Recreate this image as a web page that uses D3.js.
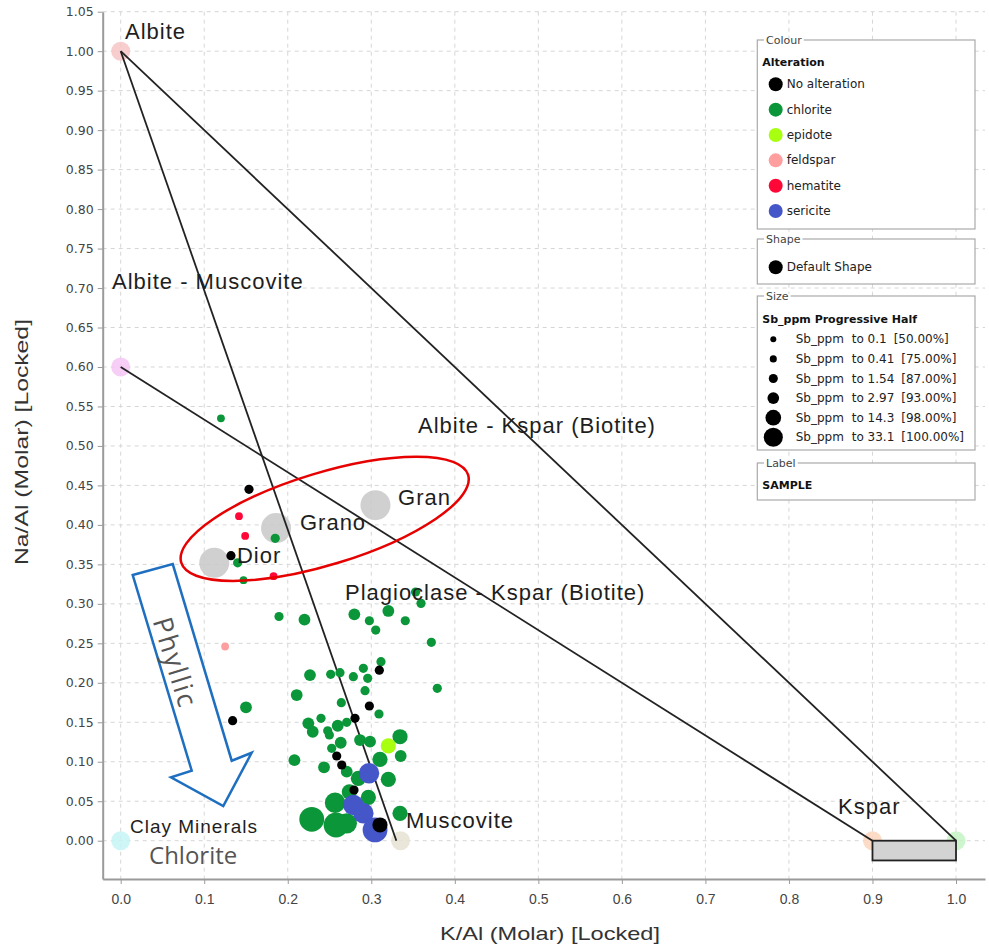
<!DOCTYPE html>
<html><head><meta charset="utf-8">
<script src="https://cdn.jsdelivr.net/npm/d3@7"></script>
<style>body{margin:0;background:#fff}svg{display:block}</style>
</head><body><svg id="c" width="989" height="947"></svg>
<script>
// ---------------- DATA ----------------
const xTicks = [0.0,0.1,0.2,0.3,0.4,0.5,0.6,0.7,0.8,0.9,1.0];
const yTicks = [0.00,0.05,0.10,0.15,0.20,0.25,0.30,0.35,0.40,0.45,0.50,0.55,0.60,0.65,0.70,0.75,0.80,0.85,0.90,0.95,1.00,1.05];

const alterations = ["No alteration","chlorite","epidote","feldspar","hematite","sericite"];
const alterationColors = ["#000000","#0a9639","#a8ff10","#ff9e9e","#ff0838","#4456c8"];

const sizeUpper = ["0.1","0.41","1.54","2.97","14.3","33.1"];
const sizePct = ["[50.00%]","[75.00%]","[87.00%]","[93.00%]","[98.00%]","[100.00%]"];

// [K/Al, Na/Al, alteration index, size class]
const chloriteSamples = [
 [0.120,0.535,1,0],[0.185,0.383,1,1],[0.140,0.352,1,1],[0.147,0.330,1,0],
 [0.353,0.315,1,1],[0.3595,0.3006,1,1],[0.1895,0.284,1,1],[0.220,0.280,1,2],
 [0.2797,0.2867,1,2],[0.3204,0.291,1,2],[0.2977,0.2786,1,1],[0.3053,0.2668,1,1],
 [0.3407,0.2786,1,1],[0.3719,0.2513,1,1],[0.379,0.193,1,1],[0.3116,0.2267,1,1],
 [0.2266,0.2098,1,2],[0.2514,0.2107,1,1],[0.2625,0.2128,1,1],[0.2785,0.2077,1,1],
 [0.2905,0.2183,1,1],[0.2957,0.2057,1,1],[0.2925,0.190,1,1],[0.2107,0.1845,1,2],
 [0.150,0.169,1,2],[0.2641,0.1748,1,1],[0.3092,0.1605,1,1],[0.2398,0.155,1,1],
 [0.2246,0.1487,1,2],[0.2299,0.138,1,2],[0.2478,0.1393,1,1],[0.2598,0.1456,1,2],
 [0.2706,0.150,1,1],[0.2498,0.134,1,1],[0.2634,0.1241,1,2],[0.2865,0.1275,1,2],
 [0.2985,0.1254,1,2],[0.3344,0.1317,1,3],[0.3352,0.1073,1,2],[0.3104,0.1031,1,3],
 [0.2526,0.117,1,1],[0.208,0.102,1,2],[0.2434,0.093,1,2],[0.2706,0.0874,1,2],
 [0.2845,0.079,1,3],[0.3204,0.0778,1,3],[0.2737,0.062,1,3],[0.2965,0.055,1,3],
 [0.2566,0.0481,1,4],[0.3344,0.0347,1,3],[0.2287,0.0271,1,5],[0.2706,0.022,1,4],
 [0.2578,0.0199,1,5]
];
const sericiteSamples = [
 [0.2973,0.0854,5,4],[0.2785,0.0452,5,4],[0.2905,0.0347,5,4],[0.3045,0.0136,5,5]
];
const otherSamples = [
 [0.3204,0.120,2,3],
 [0.1416,0.411,4,0],[0.149,0.386,4,0],[0.183,0.335,4,0],
 [0.125,0.246,3,0]
];
const unalteredSamples = [
 [0.1536,0.445,0,1],[0.132,0.361,0,1],[0.134,0.152,0,1],[0.3096,0.216,0,1],
 [0.2977,0.1706,0,1],[0.2805,0.155,0,1],[0.2586,0.1073,0,1],[0.2646,0.0959,0,1],
 [0.2793,0.0642,0,1],[0.3104,0.0199,0,3]
];

// End-member points
const endMembers = [
 {name:"Albite", k:0, na:1.0, color:"#f7c4c4"},
 {name:"Albite-Muscovite", k:0, na:0.6, color:"#f6c6f4"},
 {name:"Clay", k:0, na:0.0, color:"#c6f4f6"},
 {name:"Muscovite", k:0.335, na:0.0, color:"#e6e2d4"},
 {name:"Kspar", k:0.9, na:0.0, color:"#fbd6bc"},
 {name:"Kspar2", k:1.0, na:0.0, color:"#c6f4c6"}
];
// Tie lines [k1,na1,k2,na2]
const tieLines = [[0,1.0,0.33,0.0],[0,1.0,1.0,0.0],[0,0.6,0.9,0.0]];
// Reference rocks
const rockNames = ["Dior","Grano","Gran"];
const rockK = [0.112,0.186,0.305];
const rockNa = [0.352,0.396,0.425];

// ---------------- CHART ----------------
const svg = d3.select("#c");
const x = d3.scaleLinear().domain([-0.02155,1.0347]).range([102.7,985]);
const y = d3.scaleLinear().domain([-0.0485,1.05]).range([879,11.7]);
const [yb, yt] = y.range();
const [xl, xr] = x.range();

// grid
const grid = svg.append("g");
grid.selectAll("line.gx").data(xTicks).join("line").attr("class","gx")
  .attr("x1",d=>x(d)).attr("x2",d=>x(d)).attr("y1",yt).attr("y2",yb)
  .attr("stroke","#d6d6d6").attr("stroke-dasharray","4,4");
grid.selectAll("line.gy").data(yTicks).join("line").attr("class","gy")
  .attr("x1",xl).attr("x2",xr).attr("y1",d=>y(d)).attr("y2",d=>y(d))
  .attr("stroke","#d6d6d6").attr("stroke-dasharray","4,4");

// axes
const gx = svg.append("g").attr("transform",`translate(0,${yb})`)
  .call(d3.axisBottom(x).tickValues(xTicks).tickFormat(d3.format(".1f")).tickSize(5).tickSizeOuter(0).tickPadding(10));
const gy = svg.append("g").attr("transform",`translate(${xl},0)`)
  .call(d3.axisLeft(y).tickValues(yTicks).tickFormat(d3.format(".2f")).tickSize(5).tickSizeOuter(0).tickPadding(4));
[gx,gy].forEach(g=>{
  g.select(".domain").attr("stroke","#9a9a9a").attr("stroke-width",2);
  g.selectAll(".tick line").attr("stroke","#9a9a9a");
});
gx.selectAll("text").attr("fill","#444").style("font-family","Liberation Sans, Arial").style("font-size","14px");
gy.selectAll("text").attr("fill","#444").style("font-family","DejaVu Sans").style("font-size","12.5px");

svg.append("text").attr("x",550).attr("y",933).attr("text-anchor","middle").attr("dominant-baseline","central")
  .attr("textLength",220).attr("lengthAdjust","spacingAndGlyphs")
  .style("font-family","Liberation Sans, Arial").style("font-size","19px").attr("fill","#333")
  .text("K/Al (Molar) [Locked]");
svg.append("text").attr("transform","translate(22,442) rotate(-90)").attr("text-anchor","middle").attr("dominant-baseline","central")
  .attr("textLength",246).attr("lengthAdjust","spacingAndGlyphs")
  .style("font-family","Liberation Sans, Arial").style("font-size","18px").attr("fill","#333")
  .text("Na/Al (Molar) [Locked]");

// end-member circles
svg.append("g").selectAll("circle").data(endMembers).join("circle")
  .attr("cx",d=>x(d.k)).attr("cy",d=>y(d.na)).attr("r",9.5).attr("fill",d=>d.color).attr("opacity",0.85);

// Kspar box
svg.append("rect").attr("x",x(0.9)).attr("y",y(0)).attr("width",x(1.0)-x(0.9)).attr("height",y(-0.025)-y(0))
  .attr("fill","#d3d3d3").attr("stroke","#222").attr("stroke-width",1.8);

// reference rocks
svg.append("g").selectAll("circle").data(rockNames).join("circle")
  .attr("cx",(d,i)=>x(rockK[i])).attr("cy",(d,i)=>y(rockNa[i])).attr("r",15).attr("fill","#c8c8c8").attr("opacity",0.85);

// tie lines
svg.append("g").selectAll("line").data(tieLines).join("line")
  .attr("x1",d=>x(d[0])).attr("y1",d=>y(d[1])).attr("x2",d=>x(d[2])).attr("y2",d=>y(d[3]))
  .attr("stroke","#222").attr("stroke-width",1.8);

// samples
const plotR = [3.9,4.6,5.9,7.6,10.2,12.4];
const allSamples = [...chloriteSamples, ...sericiteSamples, ...otherSamples, ...unalteredSamples];
svg.append("g").selectAll("circle").data(allSamples).join("circle")
  .attr("cx",d=>x(d[0])).attr("cy",d=>y(d[1])).attr("r",d=>plotR[d[3]]).attr("fill",d=>alterationColors[d[2]]);

// labels
const lblFont = "Liberation Sans, Arial";
const labels = [
 {t:"Albite",k:0.0051,na:1.0255,fs:22},
 {t:"Albite - Muscovite",k:-0.0104,na:0.7088,fs:22},
 {t:"Albite - Kspar (Biotite)",k:0.3559,na:0.5265,fs:22},
 {t:"Plagioclase - Kspar (Biotite)",k:0.2685,na:0.315,fs:22},
 {t:"Gran",k:0.332,na:0.4353,fs:22},
 {t:"Grano",k:0.2146,na:0.4036,fs:22},
 {t:"Dior",k:0.1392,na:0.3618,fs:22},
 {t:"Kspar",k:0.8587,na:0.0427,fs:22},
 {t:"Muscovite",k:0.3416,na:0.0262,fs:22},
 {t:"Clay Minerals",k:0.0111,na:0.0186,fs:19}
];
svg.append("g").selectAll("text").data(labels).join("text")
  .attr("x",d=>x(d.k)).attr("y",d=>y(d.na)).attr("dominant-baseline","central")
  .style("font-family",lblFont).style("font-size",d=>d.fs+"px").style("letter-spacing","1px")
  .attr("fill","#1e1e1e").text(d=>d.t);
svg.append("text").attr("x",x(0.0339)).attr("y",y(-0.0181)).attr("dominant-baseline","central")
  .style("font-family","Open Sans").style("font-size","24px").attr("fill","#555").text("Chlorite");

// red ellipse
const ec = [0.2442,0.4077];
svg.append("ellipse").attr("transform",`translate(${x(ec[0])},${y(ec[1])}) rotate(-17)`)
  .attr("rx",150).attr("ry",46).attr("fill","none").attr("stroke","#e60000").attr("stroke-width",2.5);

// Phyllic arrow
const arrowPts = [[0.0144,0.3365],[0.0623,0.3504],[0.1329,0.1013],[0.1568,0.1114],[0.1228,0.0439],[0.0602,0.0803],[0.0850,0.0887]];
svg.append("polygon").attr("points",arrowPts.map(p=>[x(p[0]),y(p[1])].join(",")).join(" "))
  .attr("fill","#fff").attr("stroke","#1f6fc0").attr("stroke-width",2.5).attr("stroke-linejoin","miter");
svg.append("text").attr("transform",`translate(${x(0.0665)},${y(0.2257)}) rotate(73)`)
  .attr("text-anchor","middle").attr("dominant-baseline","central")
  .style("font-family","Open Sans").style("font-size","27px").style("letter-spacing","2px")
  .attr("fill","#555").text("Phyllic");

// ---------------- LEGEND ----------------
const lg = svg.append("g").style("font-family","DejaVu Sans");
function box(yTop,h,title){
  lg.append("rect").attr("x",757.3).attr("y",yTop).attr("width",217.7).attr("height",h)
    .attr("fill","#fff").attr("stroke","#aaa").attr("stroke-width",1.2);
  const t = lg.append("text").attr("x",766).attr("y",yTop).attr("dominant-baseline","central")
    .style("font-size","11px").attr("fill","#444").text(title);
  const w = t.node().getComputedTextLength();
  lg.insert("rect", function(){return t.node();}).attr("x",764).attr("y",yTop-2).attr("width",w+4).attr("height",4).attr("fill","#fff");
}
box(40,189,"Colour");
box(239,45,"Shape");
box(296,154,"Size");
box(463,37,"Label");

lg.append("text").attr("x",762.3).attr("y",62).attr("dominant-baseline","central")
  .style("font-size","11px").style("font-weight","bold").attr("fill","#111").text("Alteration");
const colRows = lg.selectAll("g.cr").data(alterations).join("g").attr("class","cr")
  .attr("transform",(d,i)=>`translate(0,${84.3+i*25.35})`);
colRows.append("circle").attr("cx",775.7).attr("cy",0).attr("r",7).attr("fill",(d,i)=>alterationColors[i]);
colRows.append("text").attr("x",786.7).attr("y",0).attr("dominant-baseline","central")
  .style("font-size","12px").attr("fill","#222").text(d=>d);

lg.append("circle").attr("cx",775.7).attr("cy",267.3).attr("r",7).attr("fill","#000");
lg.append("text").attr("x",786.7).attr("y",267.3).attr("dominant-baseline","central")
  .style("font-size","12px").attr("fill","#222").text("Default Shape");

lg.append("text").attr("x",762.3).attr("y",319).attr("dominant-baseline","central")
  .style("font-size","11px").style("font-weight","bold").attr("fill","#111").text("Sb_ppm Progressive Half");
const legR = plotR.map(r=>r/1.3);
const sizeRows = lg.selectAll("g.sr").data(sizeUpper).join("g").attr("class","sr")
  .attr("transform",(d,i)=>`translate(0,${339.3+i*19.6})`);
sizeRows.append("circle").attr("cx",773.3).attr("cy",0).attr("r",(d,i)=>legR[i]).attr("fill","#000");
sizeRows.append("text").attr("x",795.7).attr("y",0).attr("dominant-baseline","central")
  .style("font-size","12px").attr("fill","#222").text("Sb_ppm");
sizeRows.each(function(d,i){
  const g = d3.select(this);
  const t = g.append("text").attr("x",851.7).attr("y",0).attr("dominant-baseline","central")
    .style("font-size","12px").attr("fill","#222").text("to " + d);
  const w = t.node().getComputedTextLength();
  g.append("text").attr("x",851.7+w+7).attr("y",0).attr("dominant-baseline","central")
    .style("font-size","12px").attr("fill","#222").text(sizePct[i]);
});

lg.append("text").attr("x",762.3).attr("y",485.7).attr("dominant-baseline","central")
  .style("font-size","11px").style("font-weight","bold").attr("fill","#111").text("SAMPLE");
</script>
</body></html>
